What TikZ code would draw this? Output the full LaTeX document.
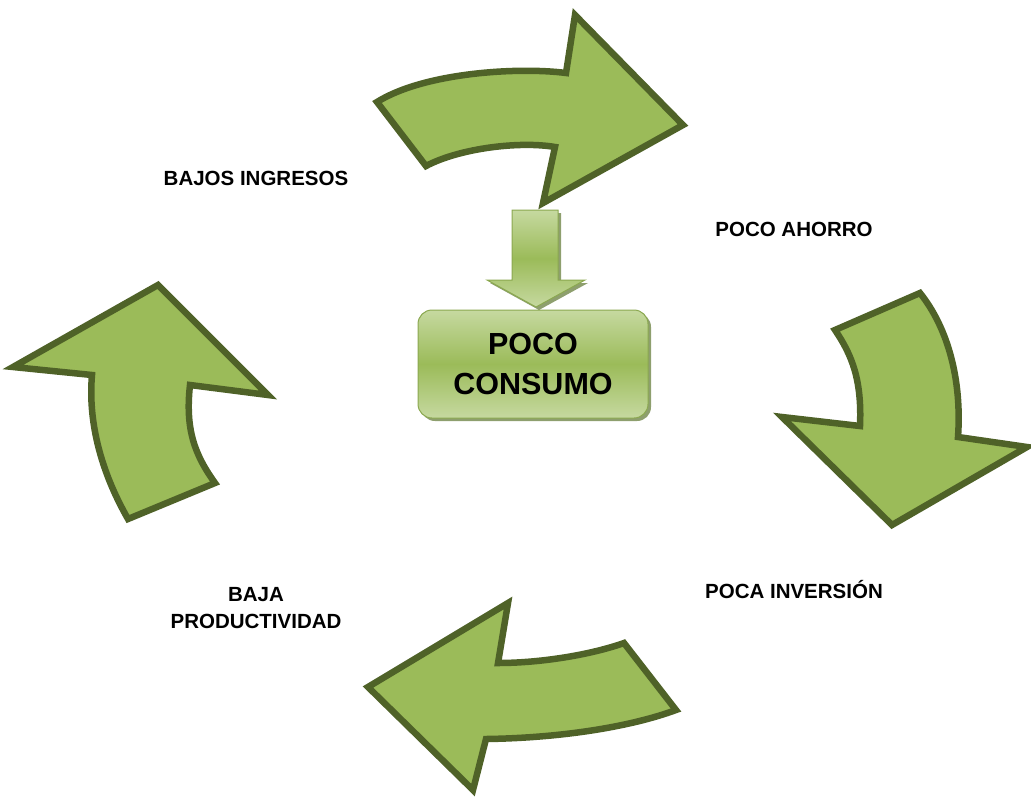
\documentclass[tikz,border=0pt]{standalone}
\usepackage{fontspec}
\setmainfont{Liberation Sans}
\usetikzlibrary{shadows}
\definecolor{verde}{HTML}{9BBB59}
\definecolor{verdeosc}{HTML}{4F6228}
\definecolor{verdeclaro}{HTML}{C6D9A0}
\definecolor{verdesombra}{HTML}{5E7630}

\begin{document}
\begin{tikzpicture}[x=1pt, y=-1pt,
  flecha/.style={fill=verde, draw=verdeosc, line width=6.5pt, line join=miter},
  degradado/.style={top color=verdeclaro, bottom color=verdeclaro, middle color=verde,
    draw=verde!90!black, line width=1pt,
    drop shadow={shadow xshift=3pt, shadow yshift=-3pt, fill=verdesombra, opacity=0.7}},
  etiqueta/.style={font=\fontsize{20.5}{27}\selectfont\bfseries, align=center}]
			\useasboundingbox (0,0) rectangle (1031,796);
			\draw[flecha] (377,102) -- (426,166) .. controls (460,148) and (520,141) .. (555,147)
			  -- (543,203) -- (683,125) -- (575,15) -- (566,73)
			  .. controls (520,67) and (425,72) .. cycle;
			\draw[flecha] (835,330) -- (920,293) .. controls (948,328) and (962,380) .. (958,437)
			  -- (1027,447) -- (892,525) -- (782,417) -- (860,426)
			  .. controls (862,380) and (852,355) .. cycle;
			\draw[flecha] (676,710) -- (624,643) .. controls (590,655) and (540,663) .. (498,663)
			  -- (508,603) -- (368,687) -- (473,790) -- (486,739)
			  .. controls (560,738) and (630,727) .. cycle;
			\draw[flecha] (128,519) -- (215,483) .. controls (195,455) and (185,430) .. (190,385)
			  -- (268,395) -- (158,285) -- (13,367) -- (92,375)
			  .. controls (88,420) and (100,470) .. cycle;
			\node[degradado, rounded corners=14pt, minimum width=230pt, minimum height=108pt,
			  font=\fontsize{30.5}{40}\selectfont\bfseries, align=center] (consumo) at (533,364) {POCO\\CONSUMO};
			\path[degradado] (512,210) -- (558,210) -- (558,280) -- (585,280) -- (536,307)
			  -- (487,280) -- (512,280) -- cycle;
			\node[etiqueta] (ingresos) at (256,178) {BAJOS INGRESOS};
			\node[etiqueta] (ahorro) at (794,229) {POCO AHORRO};
			\node[etiqueta] (inversion) at (794,590) {POCA INVERSIÓN};
			\node[etiqueta] (productividad) at (256,608) {BAJA\\PRODUCTIVIDAD};
		\end{tikzpicture}
\end{document}
